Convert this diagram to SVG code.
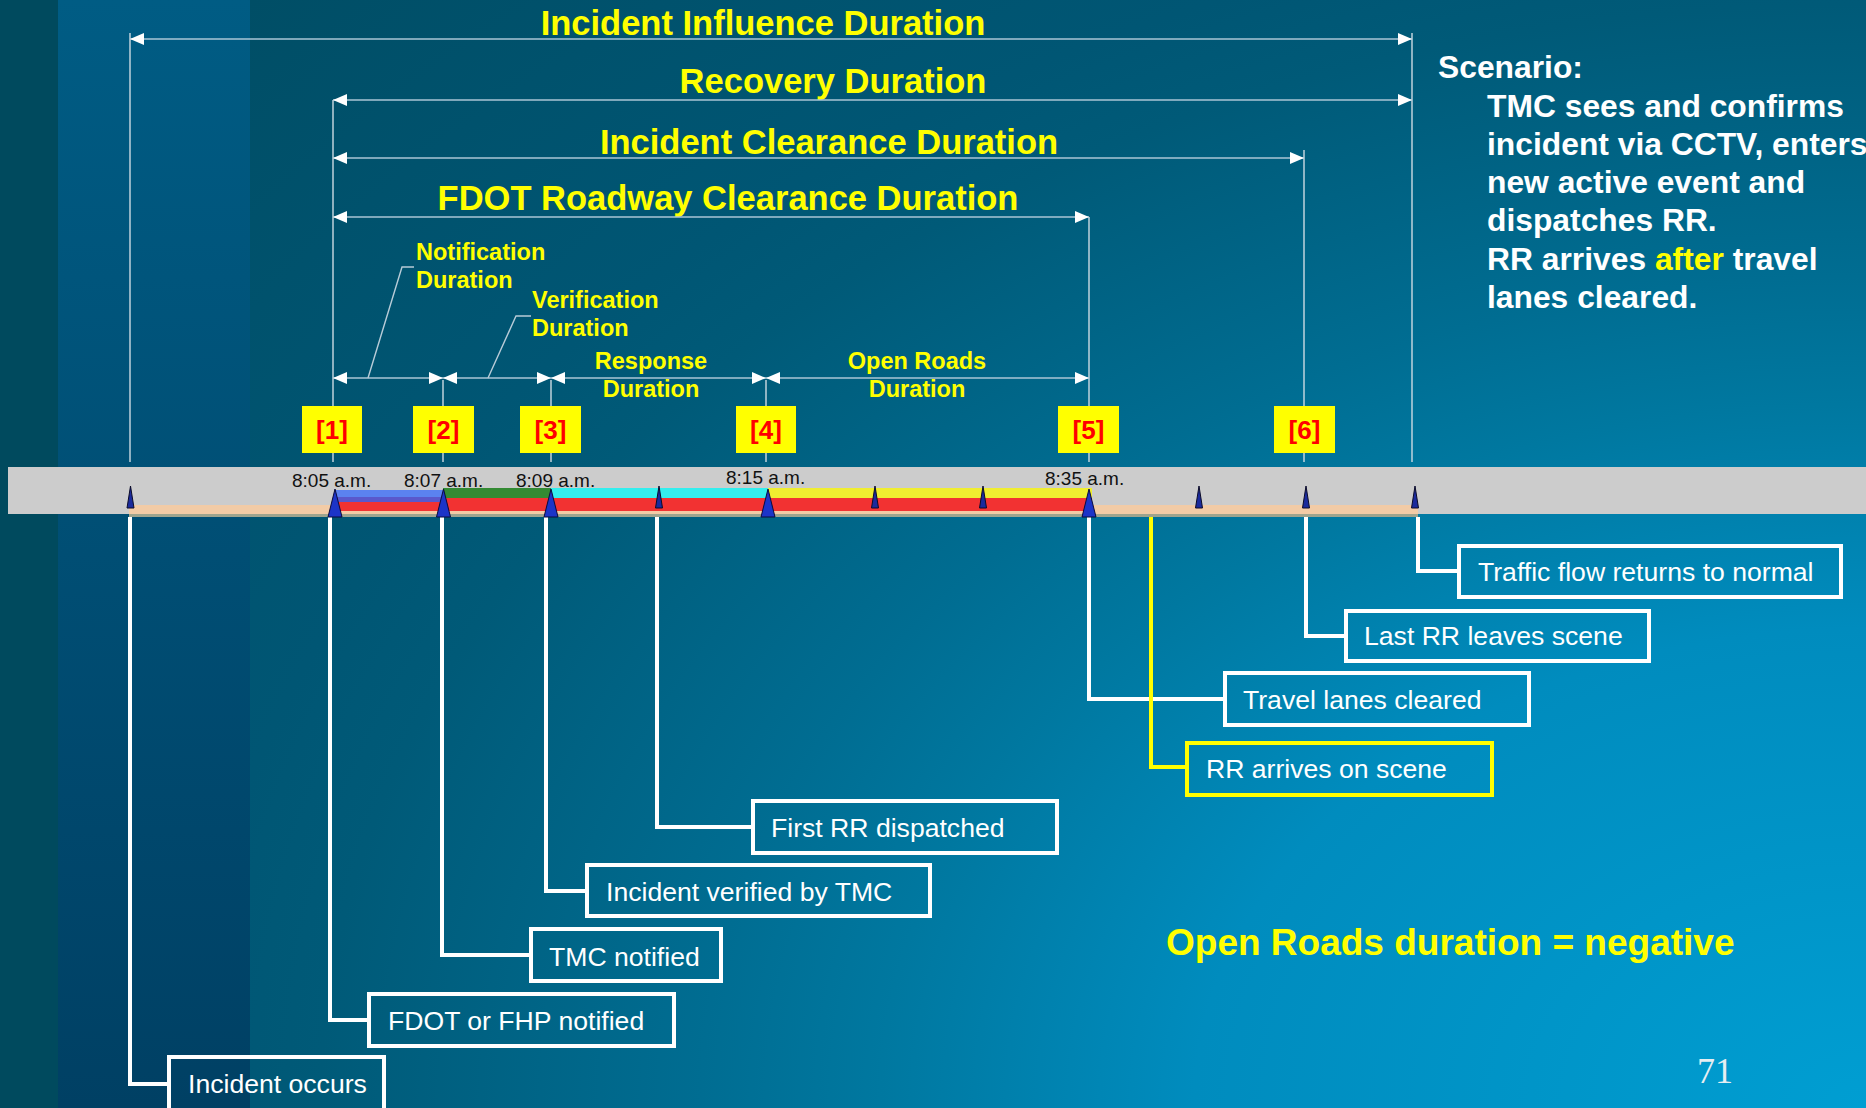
<svg xmlns="http://www.w3.org/2000/svg" width="1866" height="1108" viewBox="0 0 1866 1108">
  <defs>
    <radialGradient id="bgMain" gradientUnits="userSpaceOnUse" cx="1866" cy="1108" r="2240" gradientTransform="translate(1866 1108) scale(1 0.714) translate(-1866 -1108)">
      <stop offset="0" stop-color="#009ed2"/>
      <stop offset="0.3" stop-color="#008cbe"/>
      <stop offset="0.44" stop-color="#0078a0"/>
      <stop offset="0.52" stop-color="#006d92"/>
      <stop offset="0.69" stop-color="#005a78"/>
      <stop offset="0.75" stop-color="#005674"/>
      <stop offset="1" stop-color="#004e66"/>
    </radialGradient>
    <linearGradient id="bgBand" x1="0" y1="0" x2="0" y2="1">
      <stop offset="0" stop-color="#005c84"/>
      <stop offset="1" stop-color="#004064"/>
    </linearGradient>
    <marker id="arr" viewBox="0 0 14 12" refX="14" refY="6" markerWidth="14" markerHeight="12" markerUnits="userSpaceOnUse" orient="auto-start-reverse">
      <path d="M0,0 L14,6 L0,12 z" fill="#ffffff"/>
    </marker>
    <style>
      .title { font-family: "Liberation Sans", Arial, sans-serif; font-weight: bold; font-size: 34.5px; fill: #ffff00; text-anchor: middle; }
      .sub { font-family: "Liberation Sans", Arial, sans-serif; font-weight: bold; font-size: 23.5px; fill: #ffff00; }
      .mid { text-anchor: middle; }
      .scen { font-family: "Liberation Sans", Arial, sans-serif; font-weight: bold; font-size: 31.8px; fill: #ffffff; }
      .time { font-family: "Liberation Sans", Arial, sans-serif; font-size: 19px; fill: #111111; }
      .tag rect { fill: #ffff00; }
      .tag text { font-family: "Liberation Sans", Arial, sans-serif; font-weight: bold; font-size: 26px; fill: #ff0000; text-anchor: middle; }
      .dim { stroke: #aac6d6; stroke-width: 1.5; fill: none; marker-start: url(#arr); marker-end: url(#arr); }
      .ext { stroke: #cddbe3; stroke-width: 1.4; fill: none; }
      .lead { stroke: #b8ccd8; stroke-width: 1.4; fill: none; }
      .conn { stroke: #ffffff; stroke-width: 4; fill: none; }
      .conn.hl { stroke: #ffff00; }
      .box rect { fill: none; stroke: #ffffff; stroke-width: 4; }
      .box.hl rect { stroke: #ffff00; }
      .box text { font-family: "Liberation Sans", Arial, sans-serif; font-size: 26.6px; fill: #ffffff; }
      .big { stroke: #0b0b3c; stroke-width: 1; fill: #1c34c8; }
      .small { stroke: #0b0b2a; stroke-width: 1; fill: #1a2a9c; }
    </style>
  </defs>

  <!-- background -->
  <rect x="0" y="0" width="1866" height="1108" fill="url(#bgMain)"/>
  <rect x="58" y="0" width="192" height="1108" fill="url(#bgBand)"/>
  <rect x="0" y="0" width="58" height="1108" fill="#004a5e"/>

  <!-- duration titles -->
  <g id="duration-titles">
    <text class="title" x="763" y="34.5">Incident Influence Duration</text>
    <text class="title" x="833" y="92.5">Recovery Duration</text>
    <text class="title" x="829" y="154">Incident Clearance Duration</text>
    <text class="title" x="728" y="209.5">FDOT Roadway Clearance Duration</text>
    <text class="sub" x="416" y="260">Notification</text>
    <text class="sub" x="416" y="288">Duration</text>
    <text class="sub" x="532" y="308">Verification</text>
    <text class="sub" x="532" y="336">Duration</text>
    <text class="sub mid" x="651" y="369">Response</text>
    <text class="sub mid" x="651" y="397">Duration</text>
    <text class="sub mid" x="917" y="369">Open Roads</text>
    <text class="sub mid" x="917" y="397">Duration</text>
  </g>

  <!-- scenario description -->
  <g id="scenario">
    <text class="scen" x="1438" y="78">Scenario:</text>
    <text class="scen" x="1487" y="117">TMC sees and confirms</text>
    <text class="scen" x="1487" y="155">incident via CCTV, enters</text>
    <text class="scen" x="1487" y="193">new active event and</text>
    <text class="scen" x="1487" y="231">dispatches RR.</text>
    <text class="scen" x="1487" y="270">RR arrives <tspan fill="#ffff00">after</tspan> travel</text>
    <text class="scen" x="1487" y="308">lanes cleared.</text>
  </g>

  <!-- dimension lines, extension lines and leaders -->
  <g id="connectors">
    <g id="extensions">
      <line class="ext" x1="130" y1="33" x2="130" y2="462"/>
      <line class="ext" x1="333" y1="100" x2="333" y2="462"/>
      <line class="ext" x1="443" y1="380" x2="443" y2="462"/>
      <line class="ext" x1="551" y1="380" x2="551" y2="462"/>
      <line class="ext" x1="766" y1="380" x2="766" y2="462"/>
      <line class="ext" x1="1089" y1="217" x2="1089" y2="462"/>
      <line class="ext" x1="1304" y1="150" x2="1304" y2="462"/>
      <line class="ext" x1="1412" y1="33" x2="1412" y2="462"/>
    </g>
    <g id="dimensions">
      <line class="dim" x1="130" y1="39" x2="1412" y2="39"/>
      <line class="dim" x1="333" y1="100" x2="1412" y2="100"/>
      <line class="dim" x1="333" y1="158" x2="1304" y2="158"/>
      <line class="dim" x1="333" y1="217" x2="1089" y2="217"/>
      <line class="dim" x1="333" y1="378" x2="443" y2="378"/>
      <line class="dim" x1="443" y1="378" x2="551" y2="378"/>
      <line class="dim" x1="551" y1="378" x2="766" y2="378"/>
      <line class="dim" x1="766" y1="378" x2="1089" y2="378"/>
      <polyline class="lead" points="368,378 402,267 414,267"/>
      <polyline class="lead" points="488,378 516,316 531,316"/>
    </g>
    <g id="event-leaders">
      <polyline class="conn" points="130,517 130,1084 167,1084"/>
      <polyline class="conn" points="330,517 330,1020 367,1020"/>
      <polyline class="conn" points="442,517 442,955 529,955"/>
      <polyline class="conn" points="546,517 546,891 585,891"/>
      <polyline class="conn" points="657,517 657,827 751,827"/>
      <polyline class="conn" points="1089,517 1089,699 1223,699"/>
      <polyline class="conn hl" points="1151,517 1151,767 1185,767"/>
      <polyline class="conn" points="1306,517 1306,636 1344,636"/>
      <polyline class="conn" points="1418,517 1418,571 1457,571"/>
    </g>
  </g>

  <!-- roadway timeline -->
  <g id="timeline">
    <rect x="8" y="467" width="1858" height="47" fill="#cccccc"/>
    <rect x="129" y="505" width="1289" height="9" fill="#f2cba6"/>
    <rect x="129" y="514" width="1289" height="3" fill="#9ea48e"/>
    <rect x="335" y="498" width="757" height="13" fill="#f23232"/>
    <rect x="335" y="490" width="108" height="7" fill="#5b82f0"/>
    <rect x="335" y="497" width="108" height="5" fill="#5a58cc"/>
    <rect x="443" y="488" width="108" height="10" fill="#338a33"/>
    <rect x="551" y="488" width="217" height="10" fill="#33eeee"/>
    <rect x="768" y="488" width="324" height="10" fill="#f0ee30"/>

    <text class="time" x="292" y="487">8:05 a.m.</text>
    <text class="time" x="404" y="487">8:07 a.m.</text>
    <text class="time" x="516" y="487">8:09 a.m.</text>
    <text class="time" x="726" y="484">8:15 a.m.</text>
    <text class="time" x="1045" y="485">8:35 a.m.</text>

    <g id="markers-small">
      <path class="small" d="M130.5,486 L134,508 L127,508 z"/>
      <path class="small" d="M659,486 L662.5,508 L655.5,508 z"/>
      <path class="small" d="M875,486 L878.5,508 L871.5,508 z"/>
      <path class="small" d="M983,486 L986.5,508 L979.5,508 z"/>
      <path class="small" d="M1199,486 L1202.5,508 L1195.5,508 z"/>
      <path class="small" d="M1306,486 L1309.5,508 L1302.5,508 z"/>
      <path class="small" d="M1415,486 L1418.5,508 L1411.5,508 z"/>
    </g>
    <g id="markers-big">
      <path class="big" d="M335,489 L342,517 L328,517 z"/>
      <path class="big" d="M443.5,489 L450.5,517 L436.5,517 z"/>
      <path class="big" d="M551,489 L558,517 L544,517 z"/>
      <path class="big" d="M768,489 L775,517 L761,517 z"/>
      <path class="big" d="M1089,489 L1096,517 L1082,517 z"/>
    </g>
  </g>

  <!-- numbered event tags -->
  <g id="tag-1" class="tag"><rect x="302" y="406" width="60" height="47"/><text x="332" y="439">[1]</text></g>
  <g id="tag-2" class="tag"><rect x="413" y="406" width="61" height="47"/><text x="443.5" y="439">[2]</text></g>
  <g id="tag-3" class="tag"><rect x="520" y="406" width="61" height="47"/><text x="550.5" y="439">[3]</text></g>
  <g id="tag-4" class="tag"><rect x="736" y="406" width="60" height="47"/><text x="766" y="439">[4]</text></g>
  <g id="tag-5" class="tag"><rect x="1058" y="406" width="61" height="47"/><text x="1088.5" y="439">[5]</text></g>
  <g id="tag-6" class="tag"><rect x="1274" y="406" width="61" height="47"/><text x="1304.5" y="439">[6]</text></g>

  <!-- event boxes -->
  <g id="box-incident-occurs" class="box"><rect x="169" y="1057" width="215" height="80"/><text x="188" y="1093">Incident occurs</text></g>
  <g id="box-fdot-fhp" class="box"><rect x="369" y="994" width="305" height="52"/><text x="388" y="1030">FDOT or FHP notified</text></g>
  <g id="box-tmc-notified" class="box"><rect x="531" y="929" width="190" height="52"/><text x="549" y="966">TMC notified</text></g>
  <g id="box-verified" class="box"><rect x="587" y="865" width="343" height="51"/><text x="606" y="901">Incident verified by TMC</text></g>
  <g id="box-first-rr" class="box"><rect x="753" y="801" width="304" height="52"/><text x="771" y="837">First RR dispatched</text></g>
  <g id="box-rr-arrives" class="box hl"><rect x="1187" y="743" width="305" height="52"/><text x="1206" y="778">RR arrives on scene</text></g>
  <g id="box-lanes-cleared" class="box"><rect x="1225" y="673" width="304" height="52"/><text x="1243" y="709">Travel lanes cleared</text></g>
  <g id="box-last-rr" class="box"><rect x="1346" y="611" width="303" height="50"/><text x="1364" y="645">Last RR leaves scene</text></g>
  <g id="box-traffic-normal" class="box"><rect x="1459" y="546" width="382" height="51"/><text x="1478" y="581">Traffic flow returns to normal</text></g>

  <!-- notes -->
  <text x="1166" y="955" font-family="'Liberation Sans', Arial, sans-serif" font-weight="bold" font-size="37" fill="#ffff00">Open Roads duration = negative</text>
  <text x="1697" y="1083" font-family="'Liberation Serif', 'Times New Roman', serif" font-size="36" fill="#e6eef2">71</text>
</svg>
